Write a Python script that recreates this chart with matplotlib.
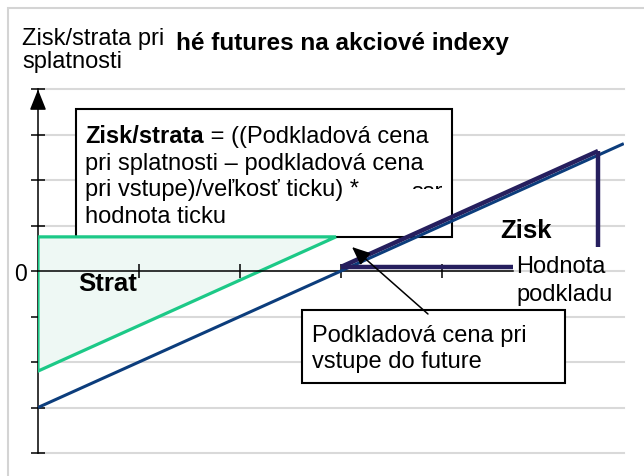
import matplotlib
matplotlib.use("Agg")
import matplotlib.pyplot as plt
from matplotlib.patches import Rectangle, Polygon

plt.rcParams['font.family'] = ['Liberation Sans', 'DejaVu Sans']

# ------------------------
# DATA (units: x ticks / y gridlines)
# ------------------------
y_ticks = [-4, -3, -2, -1, 0, 1, 2, 3, 4]
y_tick_labels = ['', '', '', '', '0', '', '', '', '']
x_ticks = [1, 2, 3, 4]

# underlying value line
blue_x = [0, 5.8]
blue_y = [-3, 2.8]

# loss triangle
green_x = [0, 2.95, 0]
green_y = [0.75, 0.75, -2.2]

# profit triangle (diagonal, horizontal, vertical)
purple_diag_x = [3.0, 5.545]
purple_diag_y = [0.09, 2.637]
purple_hor_x = [3.0, 4.7]
purple_hor_y = [0.09, 0.09]
purple_ver_x = [5.545, 5.545]
purple_ver_y = [2.637, 0.53]

title = "hé futures na akciové indexy"
ylabel_lines = ["Zisk/strata pri", "splatnosti"]
formula_bold = "Zisk/strata"
formula_lines = [" = ((Podkladová cena",
                 "pri splatnosti – podkladová cena",
                 "pri vstupe)/veľkosť ticku) *",
                 "hodnota ticku"]
entry_lines = ["Podkladová cena pri", "vstupe do future"]
value_lines = ["Hodnota", "podkladu"]

BLUE = '#0c3d7c'
GREEN = '#1cc987'
GREEN_FILL = '#eef8f4'
PURPLE = '#261f5e'
GRID = '#d9d9d9'

# ------------------------
# FIGURE
# ------------------------
W, H = 644, 477
fig = plt.figure(figsize=(W / 100, H / 100), dpi=100)
ax = fig.add_axes([38 / W, 23 / H, 585.8 / W, 364 / H])
ax.set_xlim(0, 5.8)
ax.set_ylim(-4, 4)

# outer light frame
fig.patches.append(Rectangle((8 / W, -0.2), 1.2, (H - 9) / H + 0.2,
                             transform=fig.transFigure, fill=False,
                             edgecolor='#d4d4d4', lw=1.5))

# axes styling
for s in ['top', 'right']:
    ax.spines[s].set_visible(False)
ax.spines['bottom'].set_position(('data', 0))
ax.spines['bottom'].set_bounds(0, 4.7)
ax.spines['left'].set_bounds(-4, 4)
for s in ['bottom', 'left']:
    ax.spines[s].set_linewidth(1.1)
ax.spines['left'].set_zorder(2.5)
ax.spines['bottom'].set_zorder(4.5)

ax.set_yticks(y_ticks)
ax.set_yticklabels(y_tick_labels, fontsize=16.5)
ax.set_xticks(x_ticks)
ax.set_xticklabels([])
ax.tick_params(axis='both', direction='inout', length=9.4, width=1.1, pad=3)

ax.set_axisbelow(True)
ax.yaxis.grid(True, color=GRID, lw=1.5)
for gl in ax.get_ygridlines():
    gl.set_clip_on(False)
ax.xaxis.set_zorder(4.5)

# arrow on top of y axis
ax.annotate('', xy=(0, 4.05), xytext=(0, 3.6),
            arrowprops=dict(arrowstyle='-|>,head_length=0.7,head_width=0.28',
                            color='black', lw=1.1, mutation_scale=18),
            annotation_clip=False)

# formula box
ax.add_patch(Rectangle((0.376, 0.747), 3.723, 2.813, facecolor='white',
                       edgecolor='black', lw=1.5, zorder=2))
fs = 17
t_bold = ax.text(0.465, 2.835, formula_bold, fontsize=fs, fontweight='bold',
                 va='baseline', ha='left', zorder=4)
ax.annotate(formula_lines[0], xy=(1, 2.835), xycoords=(t_bold, 'data'),
            va='baseline', ha='left', fontsize=fs, zorder=4)
for line, yb in zip(formula_lines[1:], [2.24, 1.67, 1.08]):
    ax.text(0.465, yb, line, fontsize=fs, va='baseline', ha='left', zorder=4)
# partly hidden text inside the box (only its top shows)
ax.text(3.70, 1.609, "ssr", fontsize=fs, va='baseline', ha='left', zorder=4)
ax.add_patch(Rectangle((3.62, 1.40), 0.46, 0.413, facecolor='white',
                       edgecolor='none', zorder=4.2))

# loss triangle
ax.add_patch(Polygon(list(zip(green_x, green_y)), closed=True,
                     facecolor=GREEN_FILL, edgecolor=GREEN, lw=2.3, zorder=3))

# blue line
ax.plot(blue_x, blue_y, color=BLUE, lw=2.2, zorder=5, solid_capstyle='butt')

# profit lines
ax.plot(purple_hor_x, purple_hor_y, color=PURPLE, lw=3.2, zorder=5, solid_capstyle='butt')
ax.plot(purple_diag_x, purple_diag_y, color=PURPLE, lw=3.2, zorder=6, solid_capstyle='butt')
ax.plot(purple_ver_x, purple_ver_y, color=PURPLE, lw=3.2, zorder=5, solid_capstyle='butt')

# labels
ax.text(4.574, 0.747, "Zisk", fontsize=18.5, fontweight='bold', va='baseline', ha='left', zorder=4)
ax.text(0.396, -0.418, "Strat", fontsize=18.5, fontweight='bold', va='baseline', ha='left', zorder=4)
for line, yb in zip(value_lines, [-0.022, -0.637]):
    ax.text(4.733, yb, line, fontsize=fs, va='baseline', ha='left', zorder=4)

# entry price box
ax.add_patch(Rectangle((2.614, -2.462), 2.604, 1.605, facecolor='white',
                       edgecolor='black', lw=1.5, zorder=4.6))
for line, yb in zip(entry_lines, [-1.538, -2.11]):
    ax.text(2.713, yb, line, fontsize=fs, va='baseline', ha='left', zorder=4.7)
ax.annotate('', xy=(3.109, 0.527), xytext=(3.861, -0.945),
            arrowprops=dict(arrowstyle='-|>,head_length=0.7,head_width=0.3',
                            color='black', lw=1.1, mutation_scale=16,
                            shrinkA=0, shrinkB=0),
            zorder=7)

# texts above the plot
fig.text(176 / W, (H - 50) / H, title, fontsize=17.5, fontweight='bold',
         va='baseline', ha='left')
for line, yb in zip(ylabel_lines, [45, 68]):
    fig.text(22 / W, (H - yb) / H, line, fontsize=fs, va='baseline', ha='left')

fig.savefig("out.png", dpi=100)
